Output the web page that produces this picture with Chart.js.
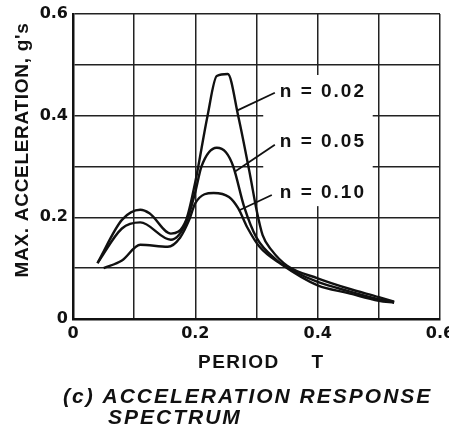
<!DOCTYPE html>
<html><head><meta charset="utf-8">
<script src="https://cdn.jsdelivr.net/npm/chart.js@4/dist/chart.umd.min.js"></script>
<style>html,body{margin:0;padding:0;background:#fff}#wrap{width:449px;height:432px;position:relative}</style>
</head><body><div id="wrap"><canvas id="c" width="449" height="432"></canvas></div>
<script>
// ---- data ----
const seriesNames = ['n = 0.02', 'n = 0.05', 'n = 0.10'];
const periodN002 = [0.04, 0.08, 0.11, 0.125, 0.16, 0.185, 0.20, 0.22, 0.235, 0.253, 0.27, 0.29, 0.30, 0.31, 0.325, 0.35, 0.40, 0.45, 0.50, 0.525];
const accelN002  = [0.11, 0.195, 0.215, 0.208, 0.168, 0.195, 0.27, 0.40, 0.478, 0.482, 0.40, 0.28, 0.215, 0.165, 0.135, 0.105, 0.08, 0.06, 0.043, 0.034];
const periodN005 = [0.04, 0.08, 0.11, 0.16, 0.185, 0.20, 0.21, 0.235, 0.25, 0.262, 0.28, 0.30, 0.333, 0.36, 0.40, 0.45, 0.50, 0.525];
const accelN005  = [0.11, 0.178, 0.19, 0.156, 0.19, 0.25, 0.30, 0.337, 0.328, 0.30, 0.22, 0.16, 0.116, 0.095, 0.073, 0.055, 0.039, 0.033];
const periodN010 = [0.05, 0.08, 0.11, 0.155, 0.175, 0.19, 0.20, 0.23, 0.255, 0.27, 0.285, 0.305, 0.34, 0.40, 0.45, 0.50, 0.525];
const accelN010  = [0.10, 0.115, 0.146, 0.142, 0.16, 0.195, 0.228, 0.248, 0.24, 0.218, 0.18, 0.142, 0.108, 0.066, 0.051, 0.036, 0.032];
const xTickLabels = [0, 0.2, 0.4, 0.6];
const yTickLabels = [0, 0.2, 0.4, 0.6];
const xTitleParts = ['PERIOD', 'T'];
const yTitle = "MAX. ACCELERATION, g's";
const captionLines = ['(c) ACCELERATION RESPONSE', 'SPECTRUM'];

// annotation placement (data space)
const leaders = [
  {from: [0.268, 0.41], to: [0.33, 0.445], text: [0.338, 0.447]},
  {from: [0.265, 0.29], to: [0.33, 0.343], text: [0.338, 0.348]},
  {from: [0.272, 0.214], to: [0.325, 0.244], text: [0.338, 0.248]}
];
const labelBox = {xMin: 0.311, xMax: 0.49, yMin: 0.222, yMax: 0.48};

const FONT = '"DejaVu Sans", "Liberation Sans", sans-serif';
const FONT2 = '"Liberation Sans", Arial, sans-serif';
const toPts = (xs, ys) => xs.map((x, i) => ({x: x, y: ys[i]}));
const isLabel = (v, list) => list.some(t => Math.abs(t - v) < 1e-6);

const decor = {
  id: 'decor',
  beforeDatasetsDraw(chart) {
    const {ctx, scales: {x, y}} = chart;
    ctx.save();
    ctx.fillStyle = '#fff';
    const l = x.getPixelForValue(labelBox.xMin), r = x.getPixelForValue(labelBox.xMax);
    const t = y.getPixelForValue(labelBox.yMax), b = y.getPixelForValue(labelBox.yMin);
    ctx.fillRect(l, t, r - l, b - t);
    ctx.restore();
  },
  afterDatasetsDraw(chart) {
    const {ctx, scales: {x, y}} = chart;
    ctx.save();
    ctx.strokeStyle = '#111';
    ctx.lineWidth = 1.8;
    ctx.fillStyle = '#111';
    ctx.font = 'bold 19px ' + FONT2;
    ctx.letterSpacing = '2px';
    ctx.textBaseline = 'middle';
    ctx.textAlign = 'left';
    leaders.forEach((a, i) => {
      ctx.beginPath();
      ctx.moveTo(x.getPixelForValue(a.from[0]), y.getPixelForValue(a.from[1]));
      ctx.lineTo(x.getPixelForValue(a.to[0]), y.getPixelForValue(a.to[1]));
      ctx.stroke();
      ctx.fillText(seriesNames[i], x.getPixelForValue(a.text[0]), y.getPixelForValue(a.text[1]));
    });
    ctx.restore();
  },
  afterDraw(chart) {
    const {ctx} = chart;
    ctx.save();
    ctx.fillStyle = '#111';
    ctx.font = 'bold 19px ' + FONT2;
    ctx.letterSpacing = '0.7px';
    ctx.textAlign = 'center';
    ctx.textBaseline = 'middle';
    ctx.translate(23, 150);
    ctx.rotate(-Math.PI / 2);
    ctx.fillText(yTitle, 0, 0);
    ctx.restore();

    ctx.save();
    ctx.fillStyle = '#111';
    ctx.font = 'bold 19px ' + FONT2;
    ctx.letterSpacing = '1.5px';
    ctx.textBaseline = 'middle';
    ctx.textAlign = 'left';
    ctx.fillText(xTitleParts[0], 198, 363);
    ctx.textAlign = 'center';
    ctx.fillText(xTitleParts[1], 318, 363);
    ctx.textAlign = 'left';
    ctx.font = 'italic bold 21px ' + FONT2;
    ctx.letterSpacing = '2px';
    ctx.fillText(captionLines[0], 63, 397);
    ctx.fillText(captionLines[1], 108, 418);
    ctx.restore();
  }
};

const lineStyle = {borderColor: '#111', borderWidth: 2.4, pointRadius: 0, fill: false, cubicInterpolationMode: 'monotone'};

new Chart(document.getElementById('c'), {
  type: 'line',
  data: {
    datasets: [
      Object.assign({label: seriesNames[0], data: toPts(periodN002, accelN002)}, lineStyle),
      Object.assign({label: seriesNames[1], data: toPts(periodN005, accelN005)}, lineStyle),
      Object.assign({label: seriesNames[2], data: toPts(periodN010, accelN010)}, lineStyle)
    ]
  },
  options: {
    responsive: false,
    animation: false,
    devicePixelRatio: 1,
    layout: {padding: {top: 14, right: 9, left: 0, bottom: 0}},
    plugins: {legend: {display: false}, tooltip: {enabled: false}},
    scales: {
      x: {
        type: 'linear', min: 0, max: 0.6,
        ticks: {stepSize: 0.1, autoSkip: false, maxRotation: 0, padding: 5, color: '#111',
          font: {family: FONT, size: 16, weight: 'bold'},
          callback: v => isLabel(v, xTickLabels) ? (v === 0 ? '0' : v.toFixed(1)) : ''},
        grid: {color: '#222', lineWidth: 1.5, drawTicks: false},
        border: {color: '#111', width: 2.5},
        afterFit(s) { s.height = 113; s.paddingLeft = 0; s.paddingRight = 0; }
      },
      y: {
        type: 'linear', min: 0, max: 0.6,
        ticks: {stepSize: 0.1, autoSkip: false, padding: 5, color: '#111',
          font: {family: FONT, size: 16, weight: 'bold'},
          callback: v => isLabel(v, yTickLabels) ? (v === 0 ? '0' : v.toFixed(1)) : ''},
        grid: {color: '#222', lineWidth: 1.5, drawTicks: false},
        border: {color: '#111', width: 2.5},
        afterFit(s) { s.width = 73; s.paddingTop = 0; s.paddingBottom = 0; }
      }
    }
  },
  plugins: [decor]
});
</script></body></html>
